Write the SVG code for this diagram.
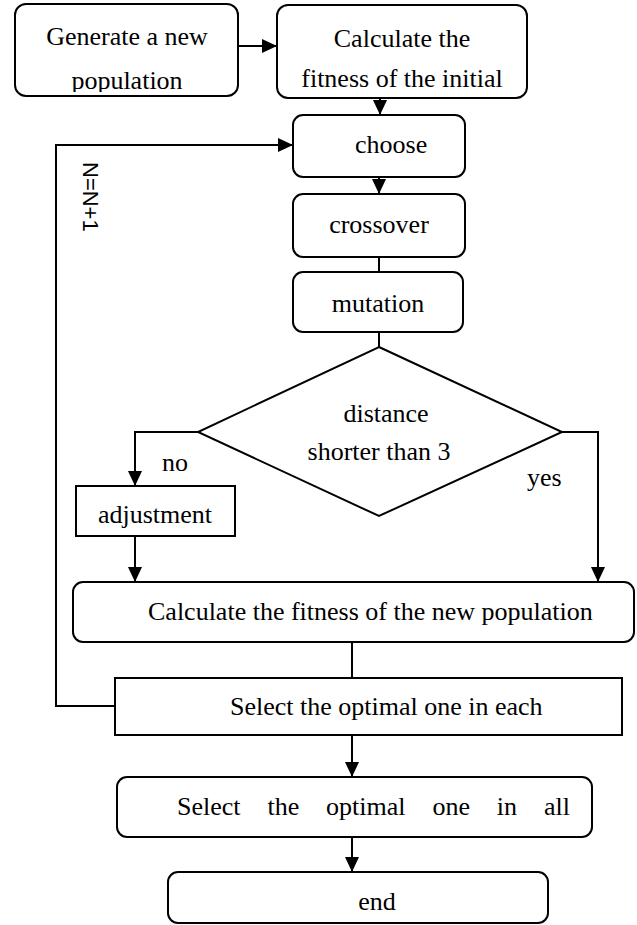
<svg xmlns="http://www.w3.org/2000/svg" width="637" height="925" viewBox="0 0 637 925">
<style>
  .box { fill: #ffffff; stroke: #000000; stroke-width: 2; }
  .t { font-family: "Liberation Serif", "Times New Roman", serif; font-size: 26px; fill: #000000; }
  .c { text-anchor: middle; }
  .s { font-family: "Liberation Sans", Arial, sans-serif; font-size: 22px; fill: #000000; }
  .ln { fill: none; stroke: #000000; stroke-width: 2; }
</style>
<defs>
  <marker id="arr" markerUnits="userSpaceOnUse" markerWidth="15" markerHeight="14" refX="15" refY="7" orient="auto">
    <path d="M0,0 L15,7 L0,14 Z" fill="#000000"/>
  </marker>
  <clipPath id="clip1"><rect x="0" y="0" width="637" height="92"/></clipPath>
  <clipPath id="clip2"><rect x="0" y="480" width="637" height="48"/></clipPath>
</defs>
<rect width="637" height="925" fill="#ffffff"/>

<g id="connectors">
  <line class="ln" x1="238" y1="46" x2="277" y2="46" marker-end="url(#arr)"/>
  <line class="ln" x1="380" y1="98" x2="380" y2="115" marker-end="url(#arr)"/>
  <line class="ln" x1="379" y1="177" x2="379" y2="194" marker-end="url(#arr)"/>
  <line class="ln" x1="379" y1="257" x2="379" y2="272"/>
  <line class="ln" x1="379" y1="332" x2="379" y2="347"/>
  <polyline class="ln" points="198,432 135,432 135,486" marker-end="url(#arr)"/>
  <polyline class="ln" points="562,432 598,432 598,582" marker-end="url(#arr)"/>
  <line class="ln" x1="135" y1="536" x2="135" y2="582" marker-end="url(#arr)"/>
  <line class="ln" x1="352" y1="642" x2="352" y2="678"/>
  <line class="ln" x1="352" y1="735" x2="352" y2="777" marker-end="url(#arr)"/>
  <line class="ln" x1="352" y1="837" x2="352" y2="872" marker-end="url(#arr)"/>
  <polyline class="ln" points="115,706 56,706 56,145 293,145" marker-end="url(#arr)"/>
  <text class="s" transform="translate(83,162) rotate(90)">N=N+1</text>
  <text class="t" x="162" y="471">no</text>
  <text class="t" x="527" y="486">yes</text>
</g>

<g id="generate">
  <rect class="box" x="15" y="4" width="223" height="92" rx="11"/>
  <text class="t c" x="127" y="45">Generate a new</text>
  <text class="t c" x="127" y="89" clip-path="url(#clip1)">population</text>
</g>

<g id="fitness-initial">
  <rect class="box" x="277" y="5" width="250" height="93" rx="11"/>
  <text class="t c" x="402" y="47">Calculate the</text>
  <text class="t c" x="402" y="87">fitness of the initial</text>
</g>

<g id="choose">
  <rect class="box" x="293" y="115" width="172" height="62" rx="10"/>
  <text class="t" x="355" y="153">choose</text>
</g>

<g id="crossover">
  <rect class="box" x="293" y="194" width="172" height="63" rx="10"/>
  <text class="t c" x="379" y="233">crossover</text>
</g>

<g id="mutation">
  <rect class="box" x="293" y="272" width="170" height="60" rx="10"/>
  <text class="t c" x="378" y="312">mutation</text>
</g>

<g id="decision">
  <polygon class="box" points="379,347 562,432 379,516 198,432"/>
  <text class="t c" x="386" y="422">distance</text>
  <text class="t c" x="379" y="460">shorter than 3</text>
</g>

<g id="adjustment">
  <rect class="box" x="76" y="486" width="159" height="50"/>
  <text class="t c" x="155" y="523" clip-path="url(#clip2)">adjustment</text>
</g>

<g id="fitness-new">
  <rect class="box" x="73" y="582" width="561" height="60" rx="10"/>
  <text class="t" x="148" y="620">Calculate the fitness of the new population</text>
</g>

<g id="select-each">
  <rect class="box" x="115" y="678" width="507" height="57"/>
  <text class="t" x="230" y="715">Select the optimal one in each</text>
</g>

<g id="select-all">
  <rect class="box" x="117" y="777" width="475" height="60" rx="10"/>
  <text class="t" x="177" y="815" word-spacing="20.4">Select the optimal one in all</text>
</g>

<g id="end">
  <rect class="box" x="168" y="872" width="380" height="51" rx="10"/>
  <text class="t c" x="377" y="910">end</text>
</g>
</svg>
